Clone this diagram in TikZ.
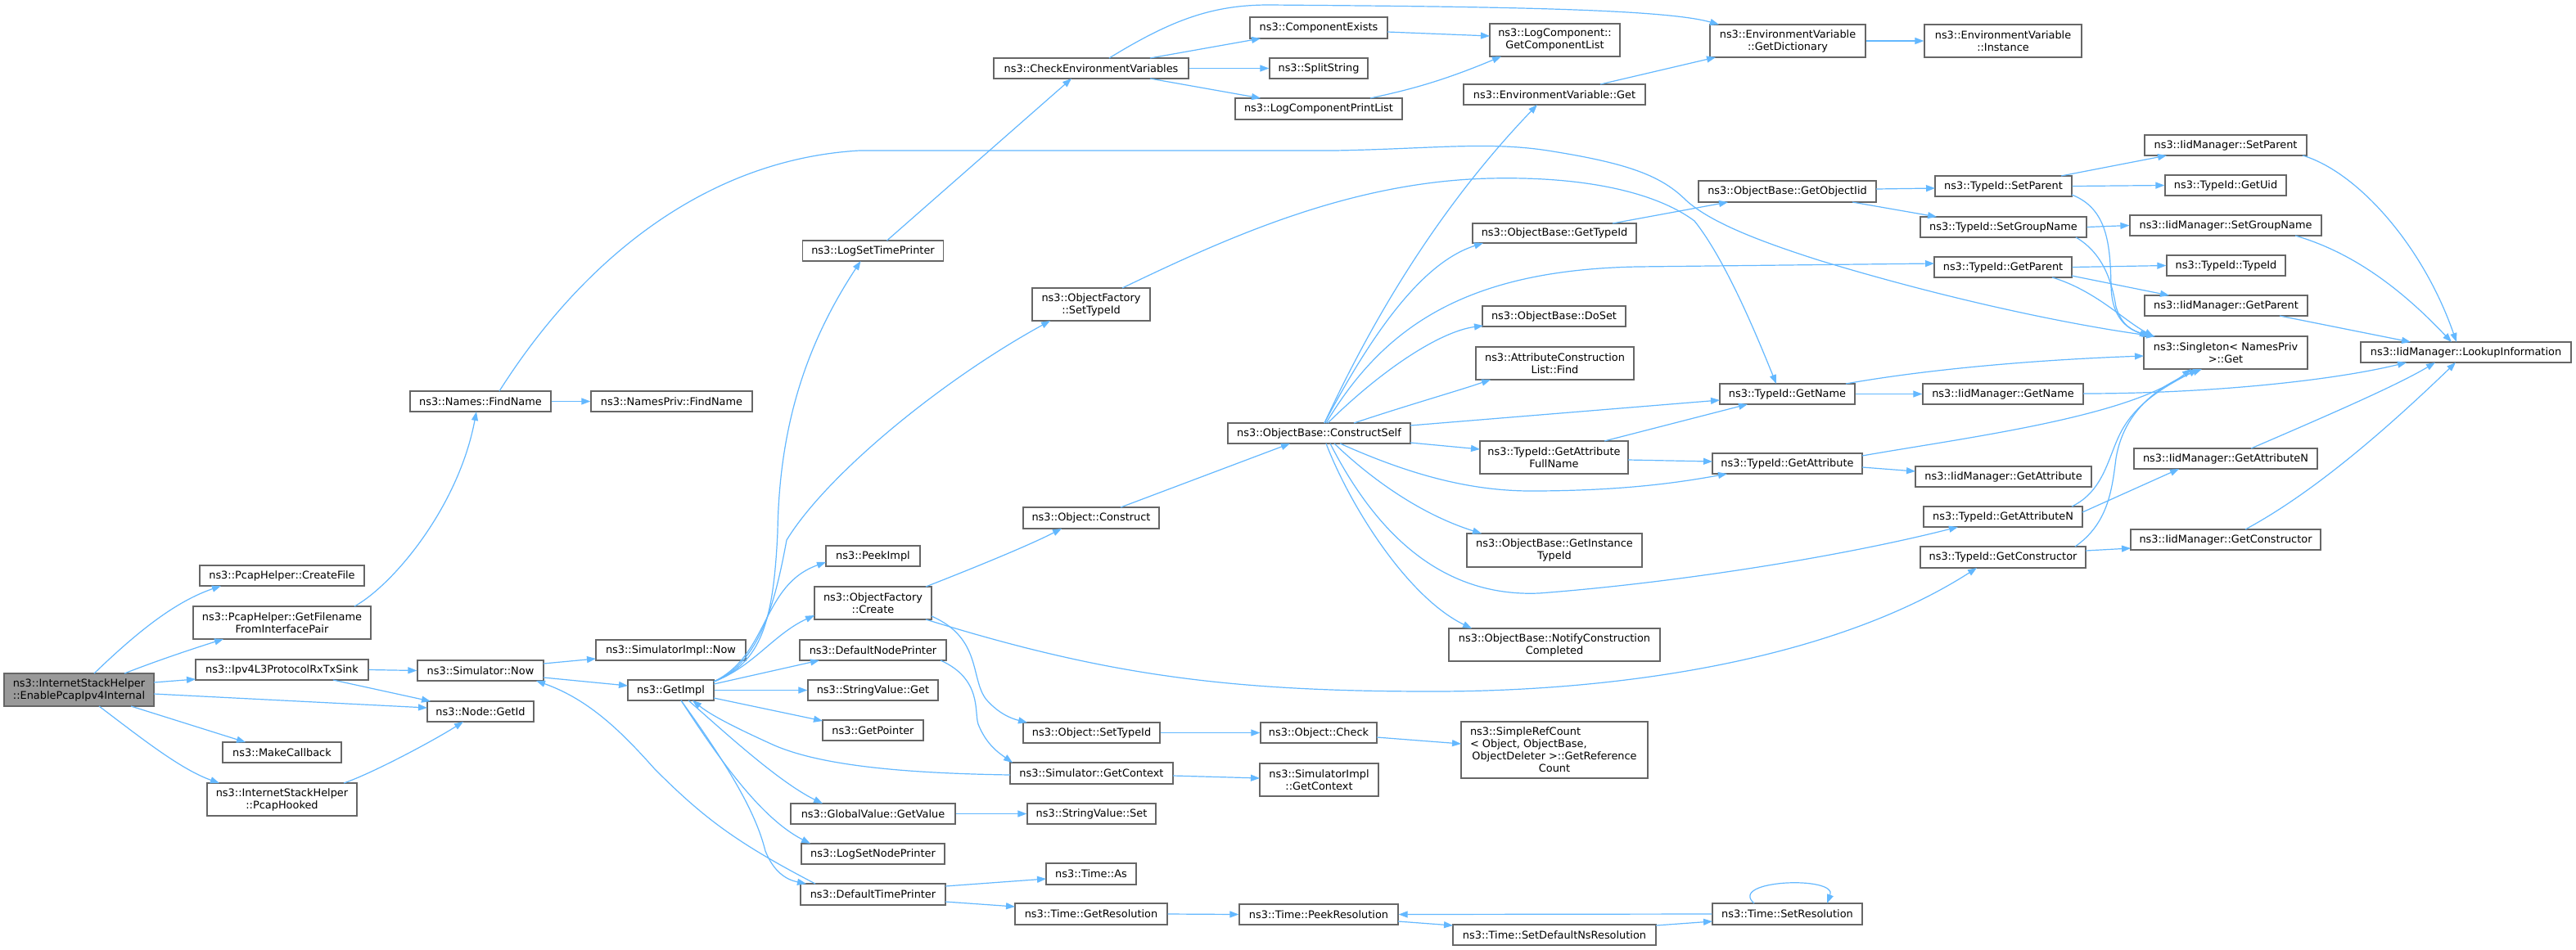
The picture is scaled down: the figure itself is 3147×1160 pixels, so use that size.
\documentclass[tikz,border=0pt]{standalone}
\usepackage{fontspec}
\newfontfamily\dvsfam{DejaVu Sans}
\usetikzlibrary{arrows.meta}
\definecolor{edgec}{HTML}{63B8FF}
\definecolor{boxc}{HTML}{666666}
\definecolor{rootc}{HTML}{999999}
\newcommand\ndbox[7][box]{\node[#1, minimum width=#5pt, minimum height=#6pt] (#2) at (#3,#4) {#7};}
\begin{document}
\begin{tikzpicture}[x=1pt,y=-1pt,
 box/.style={draw=boxc, line width=1.3pt, fill=white, inner sep=0pt, align=center, font=\dvsfam\fontsize{12.9}{15}\selectfont},
 root/.style={box, fill=rootc},
 ln/.style={draw=edgec, line width=1.2pt, -{Triangle[length=11pt,width=8pt]}}]
\fill[white] (0,0) rectangle (3147,1160);
\useasboundingbox (0,0) rectangle (3147,1160);
% nodes
\ndbox[root]{A}{96.5}{843}{183}{40}{ns3::InternetStackHelper\\::EnablePcapIpv4Internal}
\ndbox{cf}{344.5}{703.5}{201}{25}{ns3::PcapHelper::CreateFile}
\ndbox{gf}{344.5}{761}{217}{40}{ns3::PcapHelper::GetFilename\\FromInterfacePair}
\ndbox{ipv}{344.5}{818.5}{211}{25}{ns3::Ipv4L3ProtocolRxTxSink}
\ndbox{mc}{344.5}{919.5}{145}{25}{ns3::MakeCallback}
\ndbox{ph}{344.5}{977}{183}{40}{ns3::InternetStackHelper\\::PcapHooked}
\ndbox{fn}{587}{490.5}{172}{25}{ns3::Names::FindName}
\ndbox{snow}{587}{819.5}{154}{25}{ns3::Simulator::Now}
\ndbox{nid}{587}{869.5}{130}{25}{ns3::Node::GetId}
\ndbox{npf}{820.5}{490.5}{197}{25}{ns3::NamesPriv::FindName}
\ndbox{simpl}{819.5}{794.5}{183}{25}{ns3::SimulatorImpl::Now}
\ndbox{gi}{819.5}{843.5}{105}{25}{ns3::GetImpl}
\ndbox{lstp}{1066.5}{306.5}{172}{25}{ns3::LogSetTimePrinter}
\ndbox{pi}{1066.5}{679.5}{115}{25}{ns3::PeekImpl}
\ndbox{ofc}{1066.5}{737}{143}{40}{ns3::ObjectFactory\\::Create}
\ndbox{dnp}{1066.5}{794.5}{179}{25}{ns3::DefaultNodePrinter}
\ndbox{svg}{1066.5}{843.5}{159}{25}{ns3::StringValue::Get}
\ndbox{gp}{1066.5}{892.5}{123}{25}{ns3::GetPointer}
\ndbox{gvg}{1066.5}{994.5}{201}{25}{ns3::GlobalValue::GetValue}
\ndbox{lsnp}{1066.5}{1043.5}{175}{25}{ns3::LogSetNodePrinter}
\ndbox{dtp}{1066.5}{1093}{177}{26}{ns3::DefaultTimePrinter}
\ndbox{cev}{1333}{83.5}{238}{25}{ns3::CheckEnvironmentVariables}
\ndbox{ofst}{1333}{372}{144}{40}{ns3::ObjectFactory\\::SetTypeId}
\ndbox{oc}{1333}{633}{166}{26}{ns3::Object::Construct}
\ndbox{ost}{1333.5}{895.5}{167}{25}{ns3::Object::SetTypeId}
\ndbox{sgc}{1333.5}{945}{199}{26}{ns3::Simulator::GetContext}
\ndbox{svs}{1333.5}{994.5}{157}{25}{ns3::StringValue::Set}
\ndbox{ta}{1333}{1068}{110}{26}{ns3::Time::As}
\ndbox{tgr}{1333}{1117}{186}{26}{ns3::Time::GetResolution}
\ndbox{ce}{1611}{34}{168}{26}{ns3::ComponentExists}
\ndbox{ss}{1611}{83.5}{120}{25}{ns3::SplitString}
\ndbox{lcpl}{1611}{133}{204}{26}{ns3::LogComponentPrintList}
\ndbox{cs}{1611.5}{529.5}{223}{25}{ns3::ObjectBase::ConstructSelf}
\ndbox{ochk}{1611}{895.5}{142}{25}{ns3::Object::Check}
\ndbox{sigc}{1611.5}{953}{145}{40}{ns3::SimulatorImpl\\::GetContext}
\ndbox{tpr}{1611}{1117.5}{194}{25}{ns3::Time::PeekResolution}
\ndbox{lcgc}{1899.5}{49}{159}{40}{ns3::LogComponent::\\GetComponentList}
\ndbox{evg}{1899}{115.5}{222}{25}{ns3::EnvironmentVariable::Get}
\ndbox{obgt}{1899}{285}{200}{24}{ns3::ObjectBase::GetTypeId}
\ndbox{obds}{1898.5}{386.5}{175}{25}{ns3::ObjectBase::DoSet}
\ndbox{acl}{1899.5}{444}{193}{40}{ns3::AttributeConstruction\\List::Find}
\ndbox{gafn}{1898.5}{559}{181}{40}{ns3::TypeId::GetAttribute\\FullName}
\ndbox{gitid}{1899}{672.5}{214}{41}{ns3::ObjectBase::GetInstance\\TypeId}
\ndbox{ncc}{1899}{788}{258}{40}{ns3::ObjectBase::NotifyConstruction\\Completed}
\ndbox{src}{1899}{916.5}{228}{69}{\hbox to 206pt{ns3::SimpleRefCount\hfil}\\\hbox to 206pt{< Object, ObjectBase,\hfil}\\ObjectDeleter >::GetReference\\Count}
\ndbox{tsdn}{1899}{1142.5}{248}{25}{ns3::Time::SetDefaultNsResolution}
\ndbox{evgd}{2184}{50}{190}{40}{ns3::EnvironmentVariable\\::GetDictionary}
\ndbox{gobi}{2183.5}{234}{217}{26}{ns3::ObjectBase::GetObjectIid}
\ndbox{tgn}{2183.5}{481.5}{165}{25}{ns3::TypeId::GetName}
\ndbox{tga}{2183.5}{566.5}{183}{25}{ns3::TypeId::GetAttribute}
\ndbox{tsr}{2183.5}{1117}{183}{26}{ns3::Time::SetResolution}
\ndbox{evi}{2447}{50}{192}{40}{ns3::EnvironmentVariable\\::Instance}
\ndbox{tsp}{2447.5}{227.5}{167}{25}{ns3::TypeId::SetParent}
\ndbox{tsgn}{2447.5}{277.5}{203}{25}{ns3::TypeId::SetGroupName}
\ndbox{tgp}{2447}{326.5}{168}{25}{ns3::TypeId::GetParent}
\ndbox{igname}{2447}{481.5}{196}{25}{ns3::IidManager::GetName}
\ndbox{iga}{2447.5}{582.5}{215}{25}{ns3::IidManager::GetAttribute}
\ndbox{tgan}{2447}{631.5}{194}{25}{ns3::TypeId::GetAttributeN}
\ndbox{tgc}{2447}{681}{202}{26}{ns3::TypeId::GetConstructor}
\ndbox{isp}{2719}{177.5}{198}{25}{ns3::IidManager::SetParent}
\ndbox{tgu}{2719}{226.5}{148}{25}{ns3::TypeId::GetUid}
\ndbox{isgn}{2719}{275.5}{234}{25}{ns3::IidManager::SetGroupName}
\ndbox{tti}{2719.5}{324.5}{145}{25}{ns3::TypeId::TypeId}
\ndbox{igp}{2719.5}{373.5}{199}{25}{ns3::IidManager::GetParent}
\ndbox{sng}{2719}{431}{200}{40}{ns3::Singleton< NamesPriv\\>::Get}
\ndbox{igan}{2719}{560.5}{224}{25}{ns3::IidManager::GetAttributeN}
\ndbox{igc}{2719}{659.5}{232}{25}{ns3::IidManager::GetConstructor}
\ndbox{ili}{3012.5}{430.5}{257}{25}{ns3::IidManager::LookupInformation}
% edges from root
\draw[ln] ([shift={(18.5,-20)}]A.center) .. controls (170,770) and (215,735) .. ([shift={(-74.5,12.5)}]cf.center);
\draw[ln] ([shift={(55.5,-20)}]A.center) .. controls (190,808) and (235,793) .. ([shift={(-71.5,20)}]gf.center);
\draw[ln] ([shift={(91.5,-9)}]A.center) -- ([shift={(-105.5,11.5)}]ipv.center);
\draw[ln] ([shift={(91.5,5)}]A.center) -- ([shift={(-65,-4.5)}]nid.center);
\draw[ln] ([shift={(63.5,20)}]A.center) -- ([shift={(-44.5,-12.5)}]mc.center);
\draw[ln] ([shift={(24.5,20)}]A.center) .. controls (170,900) and (220,940) .. ([shift={(-76.5,-20)}]ph.center);
% column 2
\draw[ln] ([shift={(88.5,-20)}]gf.center) .. controls (480,715) and (560,620) .. ([shift={(-5,12.5)}]fn.center);
\draw[ln] (ipv.east) -- (snow.west);
\draw[ln] ([shift={(62.5,12.5)}]ipv.center) -- ([shift={(-61,-12.5)}]nid.center);
\draw[ln] ([shift={(75.5,-20)}]ph.center) .. controls (455,945) and (530,905) .. ([shift={(-21,12.5)}]nid.center);
% column 3/4
\draw[ln] (fn.east) -- (npf.west);
\draw[ln] ([shift={(23,-12.5)}]fn.center) .. controls (710,320) and (860,195) .. (1050,184) -- (1630,184) .. controls (1750,182) and (1820,172) .. (1897,185) .. controls (1990,200) and (2030,215) .. (2060,245) .. controls (2090,272) and (2150,295) .. (2222,318) .. controls (2400,372) and (2550,400) .. ([shift={(-86,-20)}]sng.center);
\draw[ln] ([shift={(77,-8.5)}]snow.center) -- ([shift={(-91.5,10.5)}]simpl.center);
\draw[ln] ([shift={(77,8.5)}]snow.center) -- ([shift={(-52.5,-5.5)}]gi.center);
\draw[ln] ([shift={(-70.5,-13)}]dtp.center) .. controls (900,1030) and (860,1000) .. (800,940) .. controls (760,895) and (720,855) .. ([shift={(68,12.5)}]snow.center);
% GetImpl
\draw[ln] ([shift={(52.5,-10.5)}]gi.center) .. controls (930,810) and (945,760) .. (950,650) .. controls (952,520) and (985,420) .. ([shift={(-15,12.5)}]lstp.center);
\draw[ln] ([shift={(52.5,-10.5)}]gi.center) .. controls (930,810) and (948,730) .. (961,660) .. controls (1010,580) and (1150,465) .. ([shift={(-50,20)}]ofst.center);
\draw[ln] ([shift={(52.5,-10.5)}]gi.center) .. controls (940,800) and (930,715) .. ([shift={(-57.5,7.5)}]pi.center);
\draw[ln] ([shift={(52.5,-10.5)}]gi.center) .. controls (920,815) and (945,775) .. ([shift={(-71.5,15)}]ofc.center);
\draw[ln] ([shift={(52.5,-7.5)}]gi.center) -- ([shift={(-65.5,12.5)}]dnp.center);
\draw[ln] (gi.east) -- (svg.west);
\draw[ln] ([shift={(52.5,9.5)}]gi.center) -- ([shift={(-61.5,-11.5)}]gp.center);
\draw[ln] ([shift={(21.5,12.5)}]gi.center) .. controls (880,890) and (950,955) .. ([shift={(-61.5,-12.5)}]gvg.center);
\draw[ln] ([shift={(12.5,12.5)}]gi.center) .. controls (880,930) and (930,1000) .. ([shift={(-76.5,-12.5)}]lsnp.center);
\draw[ln] ([shift={(12.5,12.5)}]gi.center) .. controls (900,950) and (925,1000) .. (935,1040) .. controls (945,1065) and (960,1075) .. ([shift={(-81.5,-13)}]dtp.center);
\draw[ln] ([shift={(-99.5,2)}]sgc.center) .. controls (1100,945) and (1000,935) .. (944,910) .. controls (900,890) and (870,875) .. ([shift={(26.5,12.5)}]gi.center);
% column 5
\draw[ln] ([shift={(17,-12.5)}]lstp.center) -- ([shift={(-24,12.5)}]cev.center);
\draw[ln] ([shift={(64.5,-20)}]ofc.center) .. controls (1200,690) and (1260,665) .. ([shift={(-36,13)}]oc.center);
\draw[ln] ([shift={(71.5,16)}]ofc.center) .. controls (1200,780) and (1185,830) .. (1205,855) .. controls (1220,872) and (1235,878) .. ([shift={(-78.5,-12.5)}]ost.center);
\draw[ln] ([shift={(64.5,20)}]ofc.center) .. controls (1350,825) and (1500,845) .. (1750,845) .. controls (2000,845) and (2250,800) .. ([shift={(-32,13)}]tgc.center);
\draw[ln] ([shift={(82.5,12.5)}]dnp.center) .. controls (1200,830) and (1190,870) .. (1195,885) .. controls (1205,910) and (1220,920) .. ([shift={(-96.5,-13)}]sgc.center);
\draw[ln] (gvg.east) -- (svs.west);
\draw[ln] ([shift={(88.5,-10)}]dtp.center) -- ([shift={(-55,6)}]ta.center);
\draw[ln] ([shift={(88.5,9)}]dtp.center) -- ([shift={(-93,-9)}]tgr.center);
% column 6
\draw[ln] (ost.east) -- (ochk.west);
\draw[ln] ([shift={(71,5.5)}]ochk.center) -- ([shift={(-114,-7.5)}]src.center);
\draw[ln] ([shift={(99.5,3)}]sgc.center) -- ([shift={(-72.5,-2)}]sigc.center);
\draw[ln] (tgr.east) -- (tpr.west);
\draw[ln] ([shift={(97,8.5)}]tpr.center) -- ([shift={(-124,-11.5)}]tsdn.center);
\draw[ln] ([shift={(124,-11.5)}]tsdn.center) -- ([shift={(-91.5,9)}]tsr.center);
\draw[ln] (tsr.west) -- (tpr.east);
\draw[ln] ([shift={(-40.5,-13)}]tsr.center) .. controls (2110,1075) and (2245,1070) .. ([shift={(48.5,-13)}]tsr.center);
\draw[ln] ([shift={(72,-12.5)}]cev.center) -- ([shift={(-71,13)}]ce.center);
\draw[ln] (cev.east) -- (ss.west);
\draw[ln] ([shift={(72,12.5)}]cev.center) -- ([shift={(-71,-13)}]lcpl.center);
\draw[ln] ([shift={(22,-12.5)}]cev.center) .. controls (1430,25) and (1480,6) .. (1550,6) .. controls (1800,8) and (2030,10) .. ([shift={(-84,-20)}]evgd.center);
\draw[ln] ([shift={(84,5)}]ce.center) -- ([shift={(-79.5,-5)}]lcgc.center);
\draw[ln] ([shift={(63,-13)}]lcpl.center) .. controls (1720,110) and (1760,100) .. ([shift={(-65.5,20)}]lcgc.center);
\draw[ln] ([shift={(56,-12.5)}]evg.center) -- ([shift={(-88,20)}]evgd.center);
\draw[ln] (evgd.east) -- (evi.west);
\draw[ln] ([shift={(36,-13)}]oc.center) -- ([shift={(-35.5,12.5)}]cs.center);
\draw[ln] ([shift={(38,-20)}]ofst.center) .. controls (1500,290) and (1650,222) .. (1820,218) .. controls (1950,215) and (2030,240) .. (2070,270) .. controls (2110,320) and (2150,420) .. ([shift={(-13.5,-12.5)}]tgn.center);
% ConstructSelf
\draw[ln] ([shift={(6.5,-12.5)}]cs.center) .. controls (1700,340) and (1790,220) .. ([shift={(-21,12.5)}]evg.center);
\draw[ln] ([shift={(6.5,-12.5)}]cs.center) .. controls (1680,400) and (1740,320) .. ([shift={(-87,12)}]obgt.center);
\draw[ln] ([shift={(8.5,-12.5)}]cs.center) .. controls (1690,400) and (1790,330) .. (2000,326) -- ([shift={(-84,-4.5)}]tgp.center);
\draw[ln] ([shift={(10.5,-12.5)}]cs.center) .. controls (1690,450) and (1760,405) .. ([shift={(-86.5,11.5)}]obds.center);
\draw[ln] ([shift={(42.5,-12.5)}]cs.center) .. controls (1720,495) and (1780,478) .. ([shift={(-78.5,20)}]acl.center);
\draw[ln] ([shift={(111.5,-9.5)}]cs.center) -- ([shift={(-82.5,7.5)}]tgn.center);
\draw[ln] ([shift={(111.5,11.5)}]cs.center) -- ([shift={(-90.5,-10)}]gafn.center);
\draw[ln] ([shift={(25.5,12.5)}]cs.center) .. controls (1700,570) and (1780,600) .. (1870,600) .. controls (1980,600) and (2050,590) .. ([shift={(-73.5,12.5)}]tga.center);
\draw[ln] ([shift={(18.5,12.5)}]cs.center) .. controls (1680,590) and (1740,630) .. ([shift={(-89,-20.5)}]gitid.center);
\draw[ln] ([shift={(8.5,12.5)}]cs.center) .. controls (1650,620) and (1720,730) .. ([shift={(-101,-20)}]ncc.center);
\draw[ln] ([shift={(13.5,12.5)}]cs.center) .. controls (1680,650) and (1760,730) .. (1880,725) .. controls (2050,712) and (2250,680) .. ([shift={(-55,12.5)}]tgan.center);
% column 8/9
\draw[ln] ([shift={(61.5,-20)}]gafn.center) -- ([shift={(-48.5,12.5)}]tgn.center);
\draw[ln] ([shift={(90.5,3)}]gafn.center) -- ([shift={(-91.5,-2.5)}]tga.center);
\draw[ln] ([shift={(71,-12)}]obgt.center) -- ([shift={(-72.5,13)}]gobi.center);
\draw[ln] ([shift={(108.5,-3)}]gobi.center) -- ([shift={(-83.5,2.5)}]tsp.center);
\draw[ln] ([shift={(79.5,13)}]gobi.center) -- ([shift={(-81.5,-12.5)}]tsgn.center);
% column 10
\draw[ln] ([shift={(70.5,-12.5)}]tsp.center) -- ([shift={(-72,12.5)}]isp.center);
\draw[ln] (tsp.east) -- (tgu.west);
\draw[ln] ([shift={(83.5,10.5)}]tsp.center) .. controls (2575,255) and (2578,300) .. (2579,350) .. controls (2580,390) and (2600,402) .. ([shift={(-94,-20)}]sng.center);
\draw[ln] (tsgn.east) -- (isgn.west);
\draw[ln] ([shift={(88.5,12.5)}]tsgn.center) .. controls (2570,310) and (2580,345) .. (2585,375) .. controls (2592,398) and (2605,404) .. ([shift={(-91,-20)}]sng.center);
\draw[ln] (tgp.east) -- (tti.west);
\draw[ln] ([shift={(84,10.5)}]tgp.center) -- ([shift={(-69.5,-12.5)}]igp.center);
\draw[ln] ([shift={(60,12.5)}]tgp.center) .. controls (2560,355) and (2595,392) .. ([shift={(-88,-20)}]sng.center);
\draw[ln] (tgn.east) -- (igname.west);
\draw[ln] ([shift={(71.5,-12.5)}]tgn.center) .. controls (2350,452) and (2480,440) .. ([shift={(-100,4)}]sng.center);
\draw[ln] ([shift={(98,-0.5)}]igname.center) .. controls (2700,481) and (2850,465) .. ([shift={(-72.5,12.5)}]ili.center);
\draw[ln] ([shift={(91.5,4.5)}]tga.center) -- ([shift={(-107.5,-6.5)}]iga.center);
\draw[ln] ([shift={(91.5,-9.5)}]tga.center) .. controls (2400,535) and (2600,510) .. ([shift={(-42,20)}]sng.center);
\draw[ln] ([shift={(97,-5.5)}]tgan.center) -- ([shift={(-57,12.5)}]igan.center);
\draw[ln] ([shift={(84,-12.5)}]tgan.center) .. controls (2570,600) and (2575,560) .. (2590,530) .. controls (2610,490) and (2650,470) .. ([shift={(-34,20)}]sng.center);
\draw[ln] ([shift={(88,-13)}]tgc.center) .. controls (2575,640) and (2580,600) .. (2585,560) .. controls (2595,500) and (2640,470) .. ([shift={(-29,20)}]sng.center);
\draw[ln] ([shift={(101,-8)}]tgc.center) -- ([shift={(-116,10.5)}]igc.center);
% column 11
\draw[ln] ([shift={(94,12.5)}]isp.center) .. controls (2880,210) and (2960,300) .. ([shift={(-11.5,-12.5)}]ili.center);
\draw[ln] ([shift={(85,12.5)}]isgn.center) .. controls (2880,310) and (2940,360) .. ([shift={(-17.5,-12.5)}]ili.center);
\draw[ln] ([shift={(65.5,12.5)}]igp.center) -- ([shift={(-67.5,-12.5)}]ili.center);
\draw[ln] ([shift={(31,-12.5)}]igan.center) .. controls (2850,505) and (2930,470) .. ([shift={(-37.5,12.5)}]ili.center);
\draw[ln] ([shift={(24,-12.5)}]igc.center) .. controls (2830,600) and (2920,520) .. ([shift={(-12.5,12.5)}]ili.center);
\end{tikzpicture}
\end{document}
